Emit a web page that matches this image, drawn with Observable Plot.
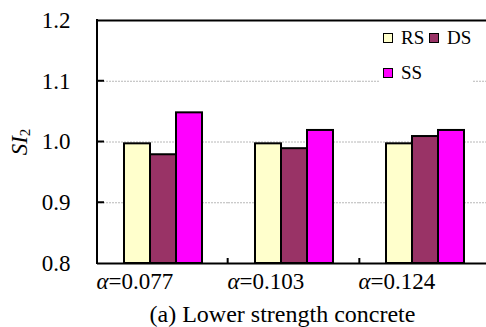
<!DOCTYPE html>
<html>
<head>
<meta charset="utf-8">
<script src="https://cdn.jsdelivr.net/npm/d3@7"></script>
<script src="https://cdn.jsdelivr.net/npm/@observablehq/plot@0.6"></script>
<style>
  html, body { margin: 0; padding: 0; background: #fff; }
  #wrap { position: relative; width: 486px; height: 327px; font-family: 'Liberation Serif', serif; color: #000; }
  #wrap svg { display: block; }
  #wrap svg, #wrap svg text { font-family: 'Liberation Serif', serif !important; }
  .ov { position: absolute; white-space: nowrap; font-family: 'Liberation Serif', serif; }
</style>
</head>
<body>
<div id="wrap"></div>
<script>
// ---- data ----
const groups = ["0.077", "0.103", "0.124"];
const series = ["RS", "DS", "SS"];
const valuesRS = [0.997, 0.997, 0.997];
const valuesDS = [0.979, 0.989, 1.009];
const valuesSS = [1.048, 1.019, 1.019];
const colors = ["#FFFFCC", "#993366", "#FF00FF"];
const yTicks = [0.8, 0.9, 1.0, 1.1, 1.2];
const gridTicks = [0.9, 1.0, 1.1];
const yLabel = "SI";
const caption = "(a) Lower strength concrete";

const seriesValues = [valuesRS, valuesDS, valuesSS];
const table = [];
groups.forEach((g, i) => series.forEach((s, j) => table.push({group: g, series: s, value: seriesValues[j][i]})));
const base = yTicks[0];

const wrap = document.getElementById("wrap");

const chart = Plot.plot({
  width: 486,
  height: 327,
  marginTop: 20,
  marginBottom: 64,
  marginLeft: 97,
  marginRight: 0,
  style: {fontFamily: "'Liberation Serif', serif", fontSize: "23px", color: "#000", background: "#fff", overflow: "visible"},
  facet: {data: table, x: "group"},
  fx: {domain: groups, range: [96, 491], padding: 0, axis: null},
  x: {domain: series, paddingInner: 0, paddingOuter: 0.944, axis: null},
  y: {domain: [yTicks[0], yTicks[yTicks.length - 1]], ticks: yTicks, tickFormat: d => d.toFixed(1), tickSize: 0, tickPadding: 27, label: null},
  color: {domain: series, range: colors},
  marks: [
    Plot.ruleY(gridTicks, {stroke: "#b8b8b8", strokeWidth: 1, strokeDasharray: "2,1"}),
    Plot.barY(table, {x: "series", y1: base, y2: "value", fill: "series", stroke: "#000", strokeWidth: 2}),
    Plot.ruleY([yTicks[0], yTicks[yTicks.length - 1]], {stroke: "#000", strokeWidth: 2}),
    Plot.text(table, {filter: d => d.series === series[1], x: "series", text: () => "α", frameAnchor: "bottom", dy: 25, dx: -55, textAnchor: "end", fontStyle: "italic"}),
    Plot.text(table, {filter: d => d.series === series[1], x: "series", text: d => "=" + d.group, frameAnchor: "bottom", dy: 25, dx: -55, textAnchor: "start"})
  ]
});
wrap.appendChild(chart);

// extra axis decorations from Plot's own scales
const svg = chart.tagName.toLowerCase() === "svg" ? chart : chart.querySelector("svg");
const ys = chart.scale("y");
const fxs = chart.scale("fx");
const yPix = d3.scaleLinear(ys.domain, ys.range);
const fxStep = (fxs.range[1] - fxs.range[0]) / fxs.domain.length;
const left = 97;
const g = d3.select(svg).append("g").attr("stroke", "#000").attr("stroke-width", 2);
g.append("line").attr("x1", left).attr("x2", left).attr("y1", yPix(yTicks[0]) + 1).attr("y2", yPix(yTicks[yTicks.length - 1]) - 1);
yTicks.slice(1, -1).forEach(t => g.append("line").attr("x1", left).attr("x2", left + 7).attr("y1", yPix(t)).attr("y2", yPix(t)));
for (let i = 1; i < fxs.domain.length; i++) {
  const x = fxs.range[0] + i * fxStep;
  g.append("line").attr("x1", x).attr("x2", x).attr("y1", yPix(yTicks[0])).attr("y2", yPix(yTicks[0]) - 5);
}

// legend (white box inside plot)
const lg = document.createElement("div");
lg.className = "ov";
lg.style.cssText = "left:379px;top:23px;width:93px;height:60px;background:#fff;";
wrap.appendChild(lg);
series.forEach((s, i) => {
  const col = i % 2, row = Math.floor(i / 2);
  const sw = document.createElement("div");
  sw.className = "ov";
  sw.style.cssText = `left:${4 + col * 46}px;top:${10 + row * 35}px;width:8px;height:8px;border:1.5px solid #000;background:${colors[i]};`;
  lg.appendChild(sw);
  const tx = document.createElement("div");
  tx.className = "ov";
  tx.style.cssText = `left:${22 + col * 46}px;top:${4 + row * 35}px;font-size:19px;line-height:22px;`;
  tx.textContent = s;
  lg.appendChild(tx);
});

// y label (rotated)
const yl = document.createElement("div");
yl.className = "ov";
yl.style.cssText = "left:22px;top:142px;font-size:23px;line-height:23px;transform:translate(-50%,-50%) rotate(-90deg);";
yl.innerHTML = "<i>" + yLabel + "</i><sub style='font-size:15px;vertical-align:-3px'>2</sub>";
wrap.appendChild(yl);

// caption
const cp = document.createElement("div");
cp.className = "ov";
cp.style.cssText = "left:0;width:565px;text-align:center;top:302px;font-size:24px;line-height:24px;";
cp.textContent = caption;
wrap.appendChild(cp);
</script>
</body>
</html>
